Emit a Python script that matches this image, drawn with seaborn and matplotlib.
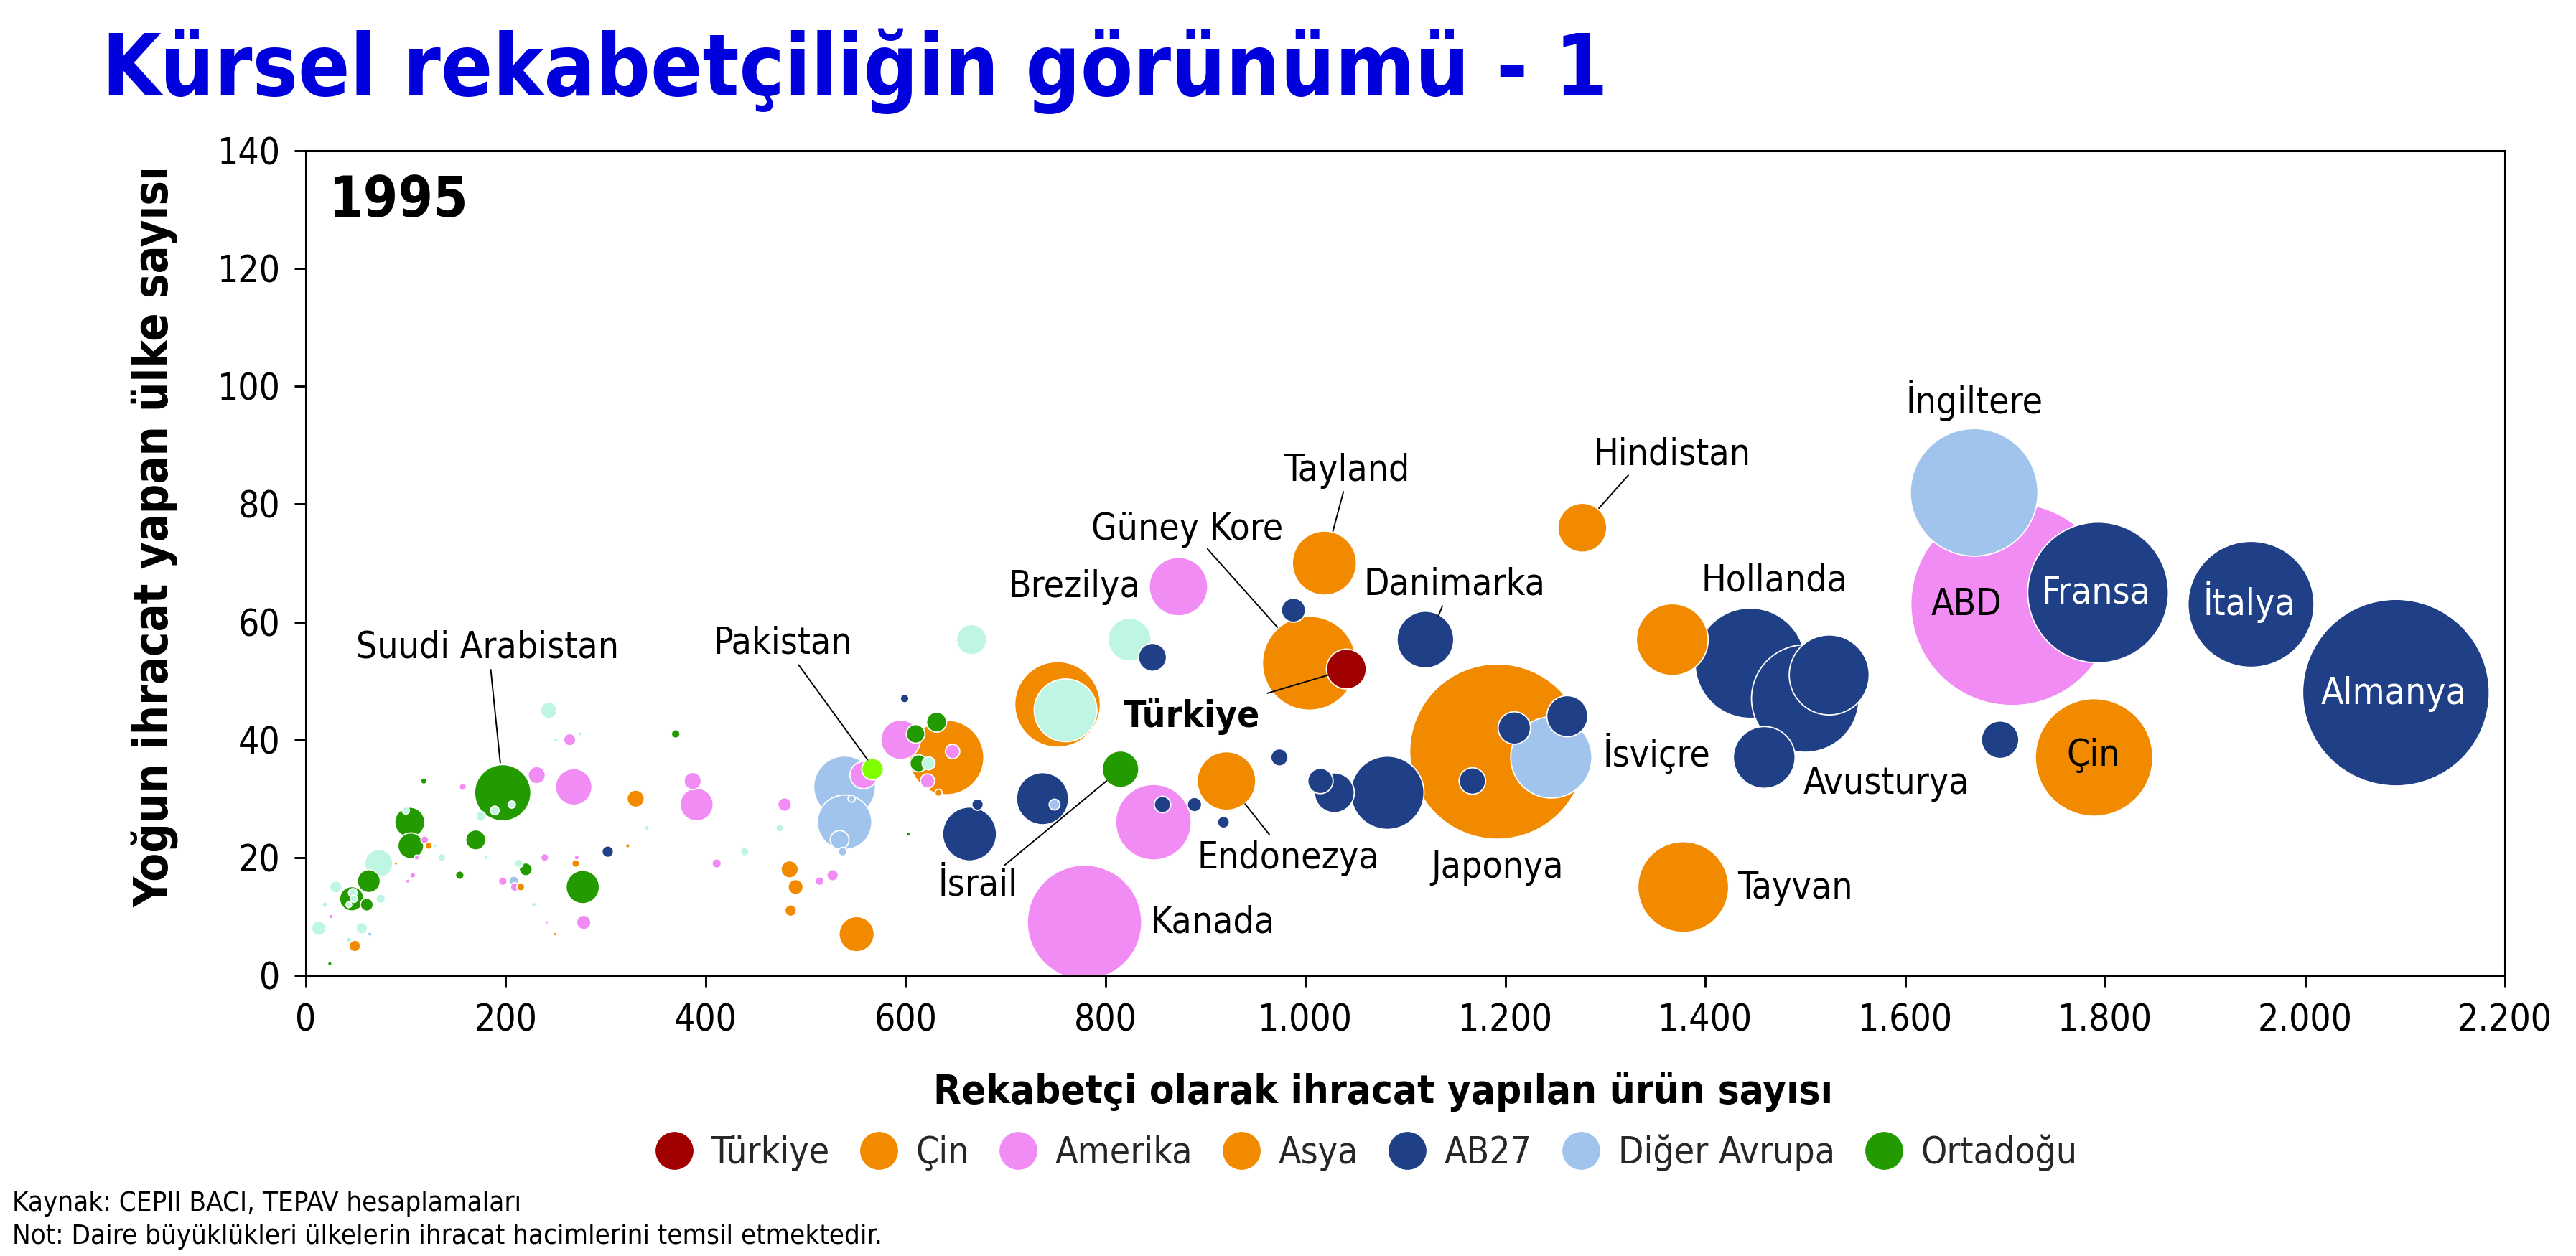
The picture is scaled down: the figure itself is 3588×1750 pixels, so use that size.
import matplotlib
matplotlib.use("Agg")
import matplotlib.pyplot as plt
from matplotlib import font_manager
from matplotlib.lines import Line2D
import pandas as pd
import seaborn as sns

# ---------------- DATA ----------------
bolge = (
    ["AB27", "Amerika", "AB27", "AB27", "Diğer Avrupa", "Çin", "AB27", "AB27", "AB27", "AB27", "AB27"]
    + ["Asya", "Asya", "Asya", "Diğer Avrupa", "AB27", "AB27", "AB27", "Asya", "AB27", "AB27", "AB27"]
    + ["AB27", "Asya", "Asya", "AB27", "Türkiye", "Amerika", "Diğer", "AB27", "Asya", "Diğer"]
    + ["Ortadoğu", "AB27", "Diğer Avrupa", "Amerika", "AB27", "AB27", "AB27", "AB27", "Asya", "Amerika"]
    + ["AB27", "AB27", "Asya", "Ortadoğu", "Ortadoğu", "Ortadoğu", "Diğer", "Amerika", "Amerika", "Asya", "AB27", "Ortadoğu"]
    + ["Diğer", "Diğer Avrupa", "Diğer Avrupa", "Diğer Avrupa", "Diğer Avrupa", "Diğer Avrupa", "Pakistan", "Amerika", "Amerika"]
    + ["Asya", "Asya", "Asya", "Asya", "Amerika", "Amerika", "Amerika", "Diğer", "Diğer", "Amerika", "AB27", "Asya",
       "Ortadoğu", "Amerika", "Amerika", "Asya", "Diğer"]
    + ["Diğer", "Diğer", "Amerika", "Diğer", "Ortadoğu", "Amerika", "Amerika", "Amerika", "Amerika", "Asya", "Ortadoğu",
       "Amerika", "Amerika", "Asya", "Diğer", "Amerika", "Diğer", "Ortadoğu", "Amerika", "Diğer Avrupa", "Amerika"]
    + ["Asya", "Diğer", "Ortadoğu", "Diğer", "Ortadoğu", "Diğer", "Diğer", "Ortadoğu", "Amerika", "Amerika", "Asya", "Diğer"]
    + ["Ortadoğu", "Diğer", "Ortadoğu", "Amerika", "Asya", "Diğer", "Amerika", "Diğer", "Ortadoğu", "Diğer", "Ortadoğu", "Diğer"]
    + ["Diğer", "Ortadoğu", "Diğer", "Diğer", "Diğer", "Amerika", "Diğer", "Diğer", "Diğer Avrupa", "Diğer", "Asya", "Ortadoğu"]
)
urun_sayisi = (
    [2091, 1707, 1946, 1793, 1669, 1789, 1695, 1445, 1500, 1524, 1459]
    + [1277, 1378, 1192, 1246, 1262, 1209, 1167, 1367, 1082, 1029, 1015]
    + [1120, 1019, 1004, 988, 1041, 873, 824, 847, 752, 760]
    + [815, 737, 749, 848, 857, 889, 918, 974, 921, 779]
    + [664, 672, 641, 631, 610, 613, 623, 647, 622, 633, 599, 603]
    + [666, 539, 539, 534, 537, 546, 567, 558, 595]
    + [551, 484, 490, 485, 514, 527, 479, 474, 439, 411, 302, 322, 370, 387, 391, 330, 341]
    + [243, 250, 264, 274, 118, 157, 231, 268, 271, 270, 277, 278, 241, 249, 228, 239, 213, 220, 197, 208, 209]
    + [215, 180, 170, 175, 197, 189, 206, 154, 107, 102, 90, 73]
    + [104, 100, 105, 119, 123, 129, 111, 136, 63, 30, 46, 47]
    + [48, 61, 43, 75, 19, 25, 13, 56, 64, 43, 49, 24]
)
ulke_sayisi = (
    [48, 63, 63, 65, 82, 37, 40, 53, 47, 51, 37]
    + [76, 15, 38, 37, 44, 42, 33, 57, 31, 31, 33]
    + [57, 70, 53, 62, 52, 66, 57, 54, 46, 45]
    + [35, 30, 29, 26, 29, 29, 26, 37, 33, 9]
    + [24, 29, 37, 43, 41, 36, 36, 38, 33, 31, 47, 24]
    + [57, 32, 26, 23, 21, 30, 35, 34, 40]
    + [7, 18, 15, 11, 16, 17, 29, 25, 21, 19, 21, 22, 41, 33, 29, 30, 25]
    + [45, 40, 40, 41, 33, 32, 34, 32, 20, 19, 15, 9, 9, 7, 12, 20, 19, 18, 16, 16, 15]
    + [15, 20, 23, 27, 31, 28, 29, 17, 17, 16, 19, 19]
    + [26, 28, 22, 23, 22, 22, 20, 20, 16, 15, 13, 14]
    + [13, 12, 12, 13, 12, 10, 8, 8, 7, 6, 5, 2]
)
hacim = (
    [169, 199, 77, 96, 79, 67, 6.8, 59, 56, 31, 18.5]
    + [11.6, 40, 149, 32, 8.2, 5.1, 3.4, 25, 26, 7.7, 3.1]
    + [15.6, 19.9, 42.8, 2.8, 7.7, 16.6, 9.0, 3.8, 35.5, 19.1]
    + [6.5, 13.2, 0.56, 27.7, 1.3, 1.0, 0.69, 1.44, 16.6, 63.5]
    + [14.1, 0.64, 27, 1.96, 1.69, 1.44, 0.81, 1.0, 1.0, 0.25, 0.36, 0.09]
    + [4.4, 18.5, 14.4, 1.7, 0.36, 0.25, 2.25, 3.6, 7.6]
    + [6.0, 1.44, 1.1, 0.64, 0.36, 0.64, 0.9, 0.3, 0.36, 0.42, 0.64, 0.09, 0.36, 1.44, 5.3, 1.44, 0.12]
    + [1.3, 0.09, 0.72, 0.09, 0.2, 0.25, 1.44, 6.5, 0.12, 0.3, 5.4, 1.0, 0.06, 0.06, 0.12, 0.3, 0.36, 0.81, 0.36, 0.49, 0.36]
    + [0.3, 0.09, 1.96, 0.49, 15.4, 0.36, 0.25, 0.36, 0.16, 0.09, 0.06, 3.8]
    + [4.4, 0.25, 3.24, 0.3, 0.25, 0.09, 0.12, 0.3, 2.56, 0.72, 2.89, 0.36]
    + [0.25, 0.81, 0.16, 0.42, 0.16, 0.09, 1.0, 0.64, 0.09, 0.16, 0.64, 0.09]
)

legend_groups = ["Türkiye", "Çin", "Amerika", "Asya", "AB27", "Diğer Avrupa", "Ortadoğu"]
x_ticks = [0, 200, 400, 600, 800, 1000, 1200, 1400, 1600, 1800, 2000, 2200]
x_tick_labels = ["0", "200", "400", "600", "800", "1.000", "1.200", "1.400", "1.600", "1.800", "2.000", "2.200"]
y_ticks = [0, 20, 40, 60, 80, 100, 120, 140]

title = "Kürsel rekabetçiliğin görünümü - 1"
year_text = "1995"
x_label = "Rekabetçi olarak ihracat yapılan ürün sayısı"
y_label = "Yoğun ihracat yapan ülke sayısı"
note1 = "Kaynak: CEPII BACI, TEPAV hesaplamaları"
note2 = "Not: Daire büyüklükleri ülkelerin ihracat hacimlerini temsil etmektedir."

# ---------------- STYLE / LAYOUT ----------------
palette = {"Türkiye": "#a00000", "Çin": "#f28a00", "Amerika": "#f28cf5", "Asya": "#f28a00",
           "AB27": "#1f3f86", "Diğer Avrupa": "#a0c4ec", "Ortadoğu": "#229a00",
           "Diğer": "#bff6e3", "Pakistan": "#80ff00"}

label_pos = {
    "Suudi Arabistan": (182, 55.6, "black", "normal"),
    "Pakistan": (477, 56.4, "black", "normal"),
    "İsrail": (672, 15.3, "black", "normal"),
    "Türkiye": (886, 43.9, "black", "bold"),
    "Güney Kore": (882, 75.7, "black", "normal"),
    "Brezilya": (769, 65.9, "black", "normal"),
    "Tayland": (1041, 85.7, "black", "normal"),
    "Danimarka": (1149, 66.4, "black", "normal"),
    "Hindistan": (1367, 88.4, "black", "normal"),
    "Endonezya": (983, 19.9, "black", "normal"),
    "Japonya": (1192, 18.3, "black", "normal"),
    "Kanada": (907, 8.9, "black", "normal"),
    "İsviçre": (1351, 37.6, "black", "normal"),
    "Tayvan": (1490, 14.8, "black", "normal"),
    "Hollanda": (1469, 66.9, "black", "normal"),
    "Avusturya": (1581, 32.5, "black", "normal"),
    "İngiltere": (1669, 97.6, "black", "normal"),
    "ABD": (1661, 62.9, "black", "normal"),
    "Fransa": (1791, 64.9, "white", "normal"),
    "İtalya": (1944, 63.4, "white", "normal"),
    "Almanya": (2089, 47.8, "white", "normal"),
    "Çin": (1788, 37.3, "black", "normal"),
}
leader_lines = {
    "Suudi Arabistan": ((185, 51.9), (194.5, 36.1)),
    "Pakistan": ((493, 52.7), (562, 36.6)),
    "İsrail": ((699, 18.7), (801, 33.0)),
    "Türkiye": ((962, 47.9), (1023, 51.0)),
    "Güney Kore": ((902, 72.4), (972, 59.1)),
    "Tayland": ((1038, 82.1), (1027.5, 75.4)),
    "Danimarka": ((1137, 62.7), (1133, 61.0)),
    "Hindistan": ((1323, 84.9), (1293.6, 79.3)),
    "Endonezya": ((964, 23.9), (939.6, 29.1)),
}

# ---------------- FONTS ----------------
cond = [f for f in font_manager.fontManager.ttflist
        if "dejavusanscondensed" in f.fname.replace("-", "").lower()]
if cond:
    FAM = [cond[0].name, "DejaVu Sans"]
    STRETCH = "condensed"
else:
    FAM = ["DejaVu Sans"]
    STRETCH = "normal"

sns.set_theme(style="white")
plt.rcParams["font.family"] = FAM
plt.rcParams["font.stretch"] = STRETCH
plt.rcParams["axes.unicode_minus"] = False

W, H = 3588, 1750
fig = plt.figure(figsize=(W / 100, H / 100), dpi=100)
L, R, T, B = 426, 3489, 210, 1359
ax = fig.add_axes([L / W, 1 - B / H, (R - L) / W, (B - T) / H])

df = pd.DataFrame({"bolge": bolge, "x": urun_sayisi, "y": ulke_sayisi, "hacim": hacim})
df = df.sort_values("hacim", ascending=False, kind="stable").reset_index(drop=True)

unit = (2 * 10 * 0.72) ** 2  # pt^2 per volume unit
vmax = 200
sns.scatterplot(data=df, x="x", y="y", hue="bolge", palette=palette, size="hacim",
                sizes=(0, vmax * unit), size_norm=(0, vmax), edgecolor="white",
                linewidth=1.3, alpha=1, legend=False, ax=ax, zorder=3)

ax.set_xlim(0, 2200)
ax.set_ylim(0, 140)
ax.set_xticks(x_ticks)
ax.set_xticklabels(x_tick_labels)
ax.set_yticks(y_ticks)
ax.grid(False)
for s in ax.spines.values():
    s.set_color("black")
    s.set_linewidth(2.2)
    s.set_visible(True)
ax.tick_params(axis="both", which="both", direction="out", length=11.5, width=2.1,
               colors="black", labelsize=37, bottom=True, left=True, top=False, right=False)
ax.tick_params(axis="x", pad=16)
ax.tick_params(axis="y", pad=14)

ax.set_xlabel(x_label, fontsize=40.5, fontweight="bold", color="black", va="top")
ax.xaxis.set_label_coords((1926 - L) / (R - L), (B - 1494) / (B - T))
ax.set_ylabel(y_label, fontsize=46.5, fontweight="bold", color="black")
ax.yaxis.set_label_coords((250 - L) / (R - L), (B - 748) / (B - T))

ax.text((457 - L) / (R - L), (B - 302) / (B - T), year_text, transform=ax.transAxes,
        fontsize=56, fontweight="bold", color="black", va="baseline", ha="left")

for name, (tx, ty, col, wt) in label_pos.items():
    ax.text(tx, ty, name, fontsize=37, color=col, fontweight=wt, ha="center", va="center", zorder=6)
for name, (p0, p1) in leader_lines.items():
    ax.annotate("", xy=p1, xytext=p0, arrowprops=dict(arrowstyle="-", color="black", lw=1.4,
                                                      shrinkA=0, shrinkB=0), zorder=5)

fig.text(142 / W, 1 - 133 / H, title, fontsize=85.5, fontweight="bold", color="#0000dd",
         ha="left", va="baseline")
fig.text(17 / W, 1 - 1687 / H, note1, fontsize=27.5, color="black", ha="left", va="baseline")
fig.text(17 / W, 1 - 1733 / H, note2, fontsize=27.5, color="black", ha="left", va="baseline")

handles = [Line2D([], [], marker="o", linestyle="", markersize=38, markerfacecolor=palette[g],
                  markeredgecolor="none") for g in legend_groups]
fig.legend(handles, legend_groups, loc="center", bbox_to_anchor=(1902 / W, 1 - 1606 / H),
           ncol=len(legend_groups), frameon=False, fontsize=37, handlelength=1.1,
           handletextpad=0.45, columnspacing=0.78, borderaxespad=0)

fig.savefig("out.png", dpi=100, facecolor="white")
